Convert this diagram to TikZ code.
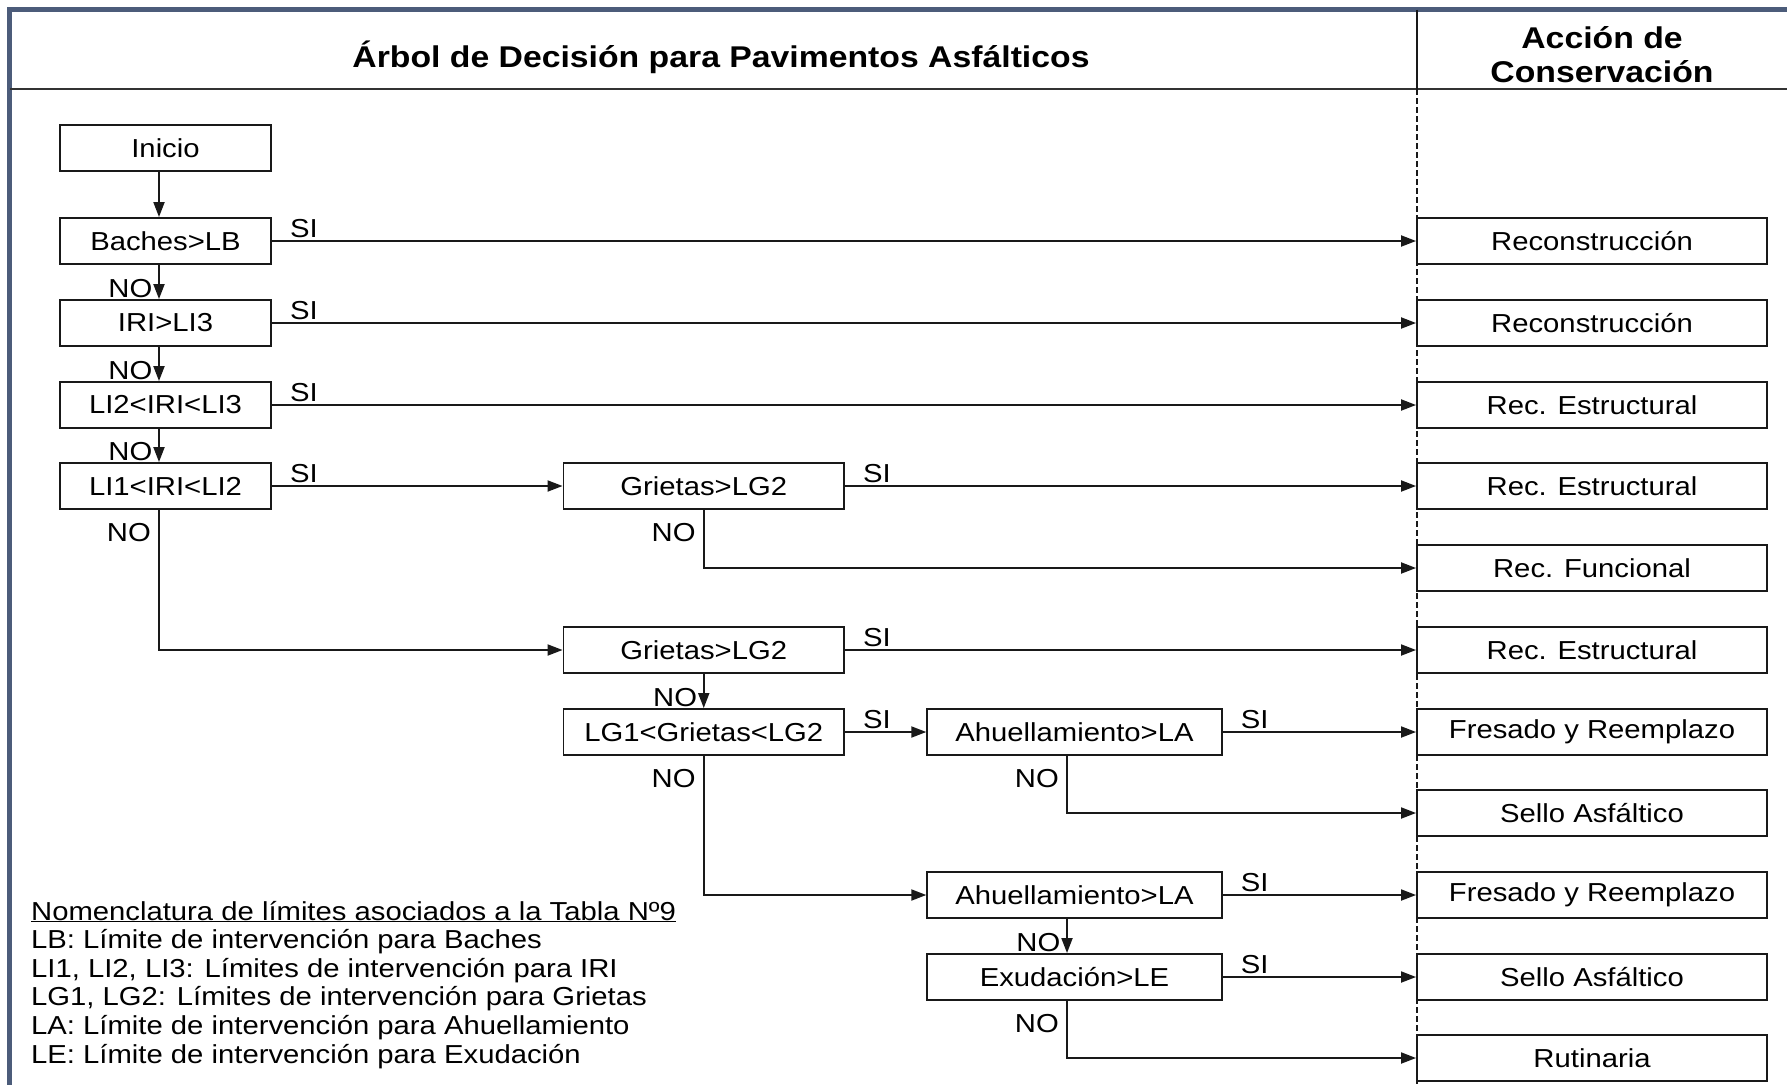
\documentclass[tikz,border=0pt]{standalone}
\usepackage{fontspec}
\setmainfont{Liberation Sans}[FakeStretch=1.125]
\usetikzlibrary{arrows.meta}
\definecolor{framec}{RGB}{76,92,122}
\definecolor{linec}{RGB}{25,25,25}
\begin{document}
\begin{tikzpicture}[x=1pt,y=-1pt,
  txt/.style={font=\fontsize{26}{28.6}\selectfont, text=black},
  box/.style={txt, draw=linec, line width=1.9pt, minimum height=46pt, inner sep=0pt},
  lbox/.style={box, minimum width=211pt},
  mbox/.style={box, minimum width=280.5pt},
  tbox/.style={box, minimum width=294.5pt},
  rbox/.style={box, minimum width=350pt},
  conn/.style={draw=linec, line width=1.9pt, -{Triangle[length=15pt,width=11pt]}},
  lab/.style={txt, inner sep=0pt},
  head/.style={font=\bfseries\fontsize{30}{34}\selectfont, inner sep=0pt, anchor=base},
]
\useasboundingbox (0,0) rectangle (1787,1084);
\fill[white] (0,0) rectangle (1787,1084);
\begin{scope}
\clip (0,0) rectangle (1787,1084);
% frame and header
\draw[framec, line width=5pt] (9.5,1110) -- (9.5,9.5) -- (1800,9.5);
\draw[black!80, line width=2.5pt] (9.5,89) -- (1787,89);
\draw[linec, line width=2pt] (1417,9.5) -- (1417,89);
\draw[linec, line width=2pt, dash pattern=on 6pt off 3pt] (1417,89) -- (1417,1084);
\end{scope}

\node[head] (title) at (721,67) {Árbol de Decisión para Pavimentos Asfálticos};
\node[head] (hdA) at (1602,48) {Acción de};
\node[head] (hdB) at (1602,82) {Conservación};

% left column
\node[lbox] (ini) at (165.5,148) {Inicio};
\node[lbox] (b1) at (165.5,241) {Baches>LB};
\node[lbox] (b2) at (165.5,323) {IRI>LI3};
\node[lbox] (b3) at (165.5,405) {LI2<IRI<LI3};
\node[lbox] (b4) at (165.5,486) {LI1<IRI<LI2};
% middle column
\node[mbox] (g1) at (703.75,486) {Grietas>LG2};
\node[mbox] (g2) at (703.75,650) {Grietas>LG2};
\node[mbox] (g3) at (703.75,732) {LG1<Grietas<LG2};
% third column
\node[tbox] (a1) at (1074.5,732) {Ahuellamiento>LA};
\node[tbox] (a2) at (1074.5,895) {Ahuellamiento>LA};
\node[tbox] (e1) at (1074.5,977) {Exudación>LE};
% right column
\node[rbox] (r1) at (1592,241) {Reconstrucción};
\node[rbox] (r2) at (1592,323) {Reconstrucción};
\node[rbox] (r3) at (1592,405) {Rec. Estructural};
\node[rbox] (r4) at (1592,486) {Rec. Estructural};
\node[rbox] (r5) at (1592,568) {Rec. Funcional};
\node[rbox] (r6) at (1592,650) {Rec. Estructural};
\node[rbox] (r7) at (1592,732) {Fresado y Reemplazo};
\node[rbox] (r8) at (1592,813) {Sello Asfáltico};
\node[rbox] (r9) at (1592,895) {Fresado y Reemplazo};
\node[rbox] (r10) at (1592,977) {Sello Asfáltico};
\node[rbox] (r11) at (1592,1058) {Rutinaria};

% vertical "NO" chains (left column)
\draw[conn] ([xshift=-6.5pt]ini.south) -- ([xshift=-6.5pt]b1.north);
\draw[conn] ([xshift=-6.5pt]b1.south) -- ([xshift=-6.5pt]b2.north);
\draw[conn] ([xshift=-6.5pt]b2.south) -- ([xshift=-6.5pt]b3.north);
\draw[conn] ([xshift=-6.5pt]b3.south) -- ([xshift=-6.5pt]b4.north);
\node[lab, anchor=base east] (n1) at ([xshift=-13pt, yshift=2pt]b2.north) {NO};
\node[lab, anchor=base east] (n2) at ([xshift=-13pt, yshift=2pt]b3.north) {NO};
\node[lab, anchor=base east] (n3) at ([xshift=-13pt, yshift=2pt]b4.north) {NO};

% SI arrows
\draw[conn] (b1.east) -- (r1.west);
\draw[conn] (b2.east) -- (r2.west);
\draw[conn] (b3.east) -- (r3.west);
\draw[conn] (b4.east) -- (g1.west);
\draw[conn] (g1.east) -- (r4.west);
\draw[conn] (g2.east) -- (r6.west);
\draw[conn] (g3.east) -- (a1.west);
\draw[conn] (a1.east) -- (r7.west);
\draw[conn] (a2.east) -- (r9.west);
\draw[conn] (e1.east) -- (r10.west);
\foreach \n in {b1,b2,b3,b4,g1,g2,g3,a1,a2,e1}
  \node[lab, anchor=base west] (si-\n) at ([xshift=18pt, yshift=4pt]\n.east) {SI};

% NO elbows
\draw[conn] ([xshift=-6.5pt]b4.south) |- (g2.west);
\node[lab, anchor=base east] (n4) at ([xshift=-14.5pt, yshift=-32pt]b4.south) {NO};
\draw[conn] (g1.south) |- (r5.west);
\node[lab, anchor=base east] (n5) at ([xshift=-8pt, yshift=-32pt]g1.south) {NO};
\draw[conn] (g2.south) -- (g3.north);
\node[lab, anchor=base east] (n6) at ([xshift=-6.5pt, yshift=2pt]g3.north) {NO};
\draw[conn] (g3.south) |- (a2.west);
\node[lab, anchor=base east] (n7) at ([xshift=-8pt, yshift=-32pt]g3.south) {NO};
\draw[conn] ([xshift=-7.5pt]a1.south) |- (r8.west);
\node[lab, anchor=base east] (n8) at ([xshift=-15.5pt, yshift=-32pt]a1.south) {NO};
\draw[conn] ([xshift=-7.5pt]a2.south) -- ([xshift=-7.5pt]e1.north);
\node[lab, anchor=base east] (n9) at ([xshift=-14pt, yshift=2pt]e1.north) {NO};
\draw[conn] ([xshift=-7.5pt]e1.south) |- (r11.west);
\node[lab, anchor=base east] (n10) at ([xshift=-15.5pt, yshift=-32pt]e1.south) {NO};

% legend
\node[lab, anchor=base west] (leg1) at (31,920) {\underline{Nomenclatura de límites asociados a la Tabla Nº9}};
\node[lab, anchor=base west] (leg2) at (31,948.6) {LB: Límite de intervención para Baches};
\node[lab, anchor=base west] (leg3) at (31,977.2) {LI1, LI2, LI3: Límites de intervención para IRI};
\node[lab, anchor=base west] (leg4) at (31,1005.8) {LG1, LG2: Límites de intervención para Grietas};
\node[lab, anchor=base west] (leg5) at (31,1034.4) {LA: Límite de intervención para Ahuellamiento};
\node[lab, anchor=base west] (leg6) at (31,1063) {LE: Límite de intervención para Exudación};
\end{tikzpicture}
\end{document}
